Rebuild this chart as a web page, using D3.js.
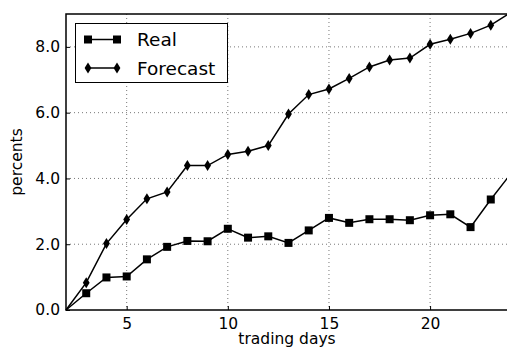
<!DOCTYPE html>
<meta charset="utf-8">
<script src="https://d3js.org/d3.v7.min.js"></script>
<style>
  body { margin: 0; background: #fff; }
  text { font-family: "DejaVu Sans", sans-serif; fill: #000; }
</style>
<div id="chart"></div>
<script>

var days = [2, 3, 4, 5, 6, 7, 8, 9, 10, 11, 12, 13, 14, 15, 16, 17, 18, 19, 20, 21, 22, 23, 24]
var real = [0, 0.51, 0.99, 1.02, 1.54, 1.92, 2.10, 2.09, 2.47, 2.20, 2.24, 2.04, 2.42, 2.80, 2.65, 2.76, 2.76, 2.73, 2.88, 2.91, 2.52, 3.36, 4.15]
var forecast = [0, 0.83, 2.02, 2.75, 3.38, 3.59, 4.39, 4.39, 4.73, 4.83, 5.00, 5.96, 6.55, 6.72, 7.04, 7.39, 7.60, 7.66, 8.08, 8.23, 8.41, 8.66, 9.05]
var xTicks = [5, 10, 15, 20]
var yTicks = [0, 2, 4, 6, 8]

var w = 507, h = 351
var margin = {top: 14, right: -4, bottom: 41, left: 66},
    innerWidth = w - margin.left - margin.right,
    innerHeight = h - margin.top - margin.bottom;

var svg = d3.select("#chart")
  .append("svg")
    .attr("width", w)
    .attr("height", h)

var g = svg.append("g")
  .attr("transform", `translate(${margin.left},${margin.top})`)

var xScale = d3.scaleLinear().domain([2, 24]).range([0, innerWidth])
var yScale = d3.scaleLinear().domain([0, 9]).range([innerHeight, 0])

// grid
g.append("g").selectAll("line")
  .data(xTicks).enter().append("line")
    .attr("x1", d => xScale(d)).attr("x2", d => xScale(d))
    .attr("y1", 0).attr("y2", innerHeight)
    .attr("stroke", "#777").attr("stroke-width", 1).attr("stroke-dasharray", "1,3")
g.append("g").selectAll("line")
  .data(yTicks.filter(d => d > 0)).enter().append("line")
    .attr("y1", d => yScale(d)).attr("y2", d => yScale(d))
    .attr("x1", 0).attr("x2", innerWidth)
    .attr("stroke", "#777").attr("stroke-width", 1).attr("stroke-dasharray", "1,3")

// axes
var xAxis = g.append("g")
  .attr("transform", `translate(0,${innerHeight})`)
  .call(d3.axisBottom(xScale).tickValues(xTicks).tickFormat(d3.format("d")).tickSizeInner(-4).tickSizeOuter(0).tickPadding(8))
var yAxis = g.append("g")
  .call(d3.axisLeft(yScale).tickValues(yTicks).tickFormat(d3.format(".1f")).tickSizeInner(-4).tickSizeOuter(0).tickPadding(6))
xAxis.selectAll("text").attr("font-size", "15.5px").attr("font-family", "DejaVu Sans")
yAxis.selectAll("text").attr("font-size", "15.5px").attr("font-family", "DejaVu Sans")
xAxis.select(".domain").remove()
yAxis.select(".domain").remove()

// spines
g.append("rect")
  .attr("x", 0).attr("y", 0)
  .attr("width", innerWidth).attr("height", innerHeight)
  .attr("fill", "none").attr("stroke", "#000").attr("stroke-width", 1.5)

var line = d3.line().x((d, i) => xScale(days[i])).y(d => yScale(d))

var plot = g.append("g")

plot.append("path").datum(real)
  .attr("d", line).attr("fill", "none").attr("stroke", "#000").attr("stroke-width", 1.5)
plot.append("path").datum(forecast)
  .attr("d", line).attr("fill", "none").attr("stroke", "#000").attr("stroke-width", 1.5)

// markers (the one sitting on the origin corner is hidden in the original)
var sq = 8
plot.selectAll(".sq").data(real).enter().filter((d, i) => i > 0).append("rect")
  .attr("x", (d, i) => xScale(days[i + 1]) - sq / 2)
  .attr("y", d => yScale(d) - sq / 2)
  .attr("width", sq).attr("height", sq)
  .attr("fill", "#000")

var diamond = "M0,-5.5L3.4,0L0,5.5L-3.4,0Z"
plot.selectAll(".dm").data(forecast).enter().filter((d, i) => i > 0).append("path")
  .attr("d", diamond)
  .attr("transform", (d, i) => `translate(${xScale(days[i + 1])},${yScale(d)})`)
  .attr("fill", "#000")

// labels
svg.append("text")
  .attr("text-anchor", "middle")
  .attr("x", 287).attr("y", 344)
  .attr("font-size", "15.5px")
  .text("trading days")
svg.append("text")
  .attr("text-anchor", "middle")
  .attr("transform", "translate(22,162) rotate(-90)")
  .attr("font-size", "15.5px")
  .text("percents")

// legend
var legend = svg.append("g")
legend.append("rect")
  .attr("x", 75.5).attr("y", 23.5).attr("width", 152).attr("height", 59)
  .attr("fill", "#fff").attr("stroke", "#000").attr("stroke-width", 1)
var items = [["Real", "sq", 39.5], ["Forecast", "dm", 68]]
items.forEach(function(it) {
  legend.append("line")
    .attr("x1", 88).attr("x2", 117).attr("y1", it[2]).attr("y2", it[2])
    .attr("stroke", "#000").attr("stroke-width", 1.5)
  ;[88, 117].forEach(function(px) {
    if (it[1] == "sq") {
      legend.append("rect").attr("x", px - sq / 2).attr("y", it[2] - sq / 2)
        .attr("width", sq).attr("height", sq).attr("fill", "#000")
    } else {
      legend.append("path").attr("d", diamond)
        .attr("transform", `translate(${px},${it[2]})`).attr("fill", "#000")
    }
  })
  legend.append("text")
    .attr("x", 137).attr("y", it[2] + 6.5)
    .attr("font-size", "18.5px")
    .text(it[0])
})

</script>
